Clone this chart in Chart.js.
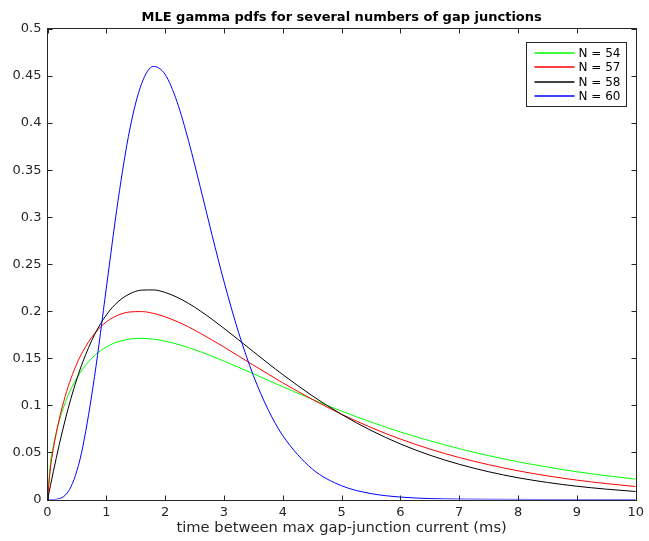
<!DOCTYPE html>
<html>
<head>
<meta charset="utf-8">
<script src="https://cdn.jsdelivr.net/npm/chart.js@4.4.1/dist/chart.umd.min.js"></script>
<style>
  html, body { margin: 0; padding: 0; background: #fff; }
  #wrap { width: 649px; height: 541px; }
</style>
</head>
<body>
<div id="wrap"><canvas id="pdfChart" width="649" height="541"></canvas></div>
<script>
// time axis (ms) where each pdf was sampled
const times = [0, 0.05, 0.1, 0.2, 0.3, 0.4, 0.5, 0.6, 0.8, 1, 1.2, 1.4, 1.6, 1.8, 2, 2.2, 2.4, 2.6, 2.8, 3,
  3.25, 3.5, 3.75, 4, 4.5, 5, 5.5, 6, 6.5, 7, 7.5, 8, 8.5, 9, 9.5, 10];

// fitted gamma densities, one array per junction count
const n54 = [0, 0.0387, 0.0574, 0.0837, 0.1028, 0.1176, 0.1293, 0.1389, 0.1530, 0.1621, 0.1677, 0.1705, 0.1713, 0.1704, 0.1683, 0.1652, 0.1614, 0.1570, 0.1522, 0.1471,
  0.1404, 0.1336, 0.1267, 0.1198, 0.1065, 0.0939, 0.0823, 0.0718, 0.0624, 0.0540, 0.0466, 0.0401, 0.0345, 0.0295, 0.0253, 0.0216];
const n57 = [0, 0.0334, 0.0541, 0.0855, 0.1095, 0.1288, 0.1445, 0.1573, 0.1764, 0.1887, 0.1959, 0.1993, 0.1997, 0.1978, 0.1941, 0.1892, 0.1833, 0.1766, 0.1694, 0.1620,
  0.1524, 0.1428, 0.1333, 0.1240, 0.1065, 0.0906, 0.0765, 0.0642, 0.0536, 0.0446, 0.0370, 0.0305, 0.0251, 0.0206, 0.0169, 0.0138];
const n58 = [0, 0.0147, 0.0298, 0.0584, 0.0844, 0.1077, 0.1282, 0.1462, 0.1752, 0.1961, 0.2102, 0.2186, 0.2225, 0.2227, 0.2200, 0.2150, 0.2083, 0.2003, 0.1914, 0.1819,
  0.1696, 0.1571, 0.1447, 0.1327, 0.1103, 0.0904, 0.0734, 0.0590, 0.0471, 0.0374, 0.0295, 0.0231, 0.0181, 0.0141, 0.0110, 0.0085];
const n60 = [0, 0, 0, 0.0009, 0.0045, 0.0137, 0.0306, 0.0560, 0.1308, 0.2247, 0.3180, 0.3937, 0.4419, 0.4602, 0.4517, 0.4230, 0.3806, 0.3313, 0.2804, 0.2317,
  0.1772, 0.1317, 0.0956, 0.0679, 0.0325, 0.0146, 0.0063, 0.0026, 0.0010, 0.0004, 0.0002, 0.0001, 0, 0, 0, 0];

const seriesNames = ['N = 54', 'N = 57', 'N = 58', 'N = 60'];
const seriesColors = ['#00ff00', '#ff0000', '#000000', '#0000ff'];
const allSeries = [n54, n57, n58, n60];

const axisColor = '#262626';
const fontFamily = "'DejaVu Sans', sans-serif";

// MATLAB style frame: box round the axes with ticks pointing inward on all four sides
const boxPlugin = {
  id: 'boxPlugin',
  afterDraw(chart) {
    const ctx = chart.ctx;
    const a = chart.chartArea;
    const xs = chart.scales.x, ys = chart.scales.y;
    const L = Math.round(a.left) - 0.5, R = Math.round(a.right) + 0.5;
    const T = Math.round(a.top) - 0.5, B = Math.round(a.bottom) + 0.5;
    const len = 5;
    ctx.save();
    ctx.strokeStyle = axisColor;
    ctx.lineWidth = 1;
    ctx.beginPath();
    xs.ticks.forEach(t => {
      const px = Math.round(xs.getPixelForValue(t.value)) + 0.5;
      ctx.moveTo(px, B); ctx.lineTo(px, B - len);
      ctx.moveTo(px, T); ctx.lineTo(px, T + len);
    });
    ys.ticks.forEach(t => {
      const py = Math.round(ys.getPixelForValue(t.value)) + 0.5;
      ctx.moveTo(L, py); ctx.lineTo(L + len, py);
      ctx.moveTo(R, py); ctx.lineTo(R - len, py);
    });
    ctx.stroke();
    ctx.strokeRect(L, T, R - L, B - T);

    // title
    ctx.fillStyle = '#000';
    ctx.font = 'bold 13px ' + fontFamily;
    ctx.textAlign = 'center';
    ctx.textBaseline = 'alphabetic';
    ctx.fillText('MLE gamma pdfs for several numbers of gap junctions', (a.left + a.right) / 2, 21);

    // legend in the upper right corner
    const bw = 100, rowH = 14.5;
    const bx = Math.round(R - 11 - bw) + 0.5, by = Math.round(T + 13) + 0.5;
    const bh = rowH * allSeries.length + 6;
    ctx.fillStyle = '#fff';
    ctx.fillRect(bx, by, bw, bh);
    ctx.strokeStyle = axisColor;
    ctx.strokeRect(bx, by, bw, bh);
    ctx.font = '12px ' + fontFamily;
    ctx.textAlign = 'left';
    ctx.textBaseline = 'middle';
    seriesNames.forEach((name, i) => {
      const y = Math.round(by + 10 + i * rowH);
      ctx.strokeStyle = seriesColors[i];
      ctx.lineWidth = 1.4;
      ctx.beginPath();
      ctx.moveTo(bx + 8, y);
      ctx.lineTo(bx + 48, y);
      ctx.stroke();
      ctx.fillStyle = '#000';
      ctx.fillText(name, bx + 52, y + 0.5);
    });
    ctx.restore();
  }
};

new Chart(document.getElementById('pdfChart'), {
  type: 'line',
  data: {
    datasets: allSeries.map((vals, i) => ({
      label: seriesNames[i],
      data: times.map((t, j) => ({ x: t, y: vals[j] })),
      borderColor: seriesColors[i],
      borderWidth: 1,
      pointRadius: 0,
      fill: false,
      cubicInterpolationMode: 'monotone',
      order: allSeries.length - i
    }))
  },
  options: {
    responsive: false,
    animation: false,
    layout: { padding: { top: 29, right: 7.5, left: 0, bottom: 0 } },
    plugins: {
      legend: { display: false },
      title: { display: false },
      tooltip: { enabled: false }
    },
    scales: {
      x: {
        type: 'linear',
        min: 0,
        max: 10,
        grid: { display: false, drawTicks: false },
        border: { display: false },
        ticks: { stepSize: 1, padding: 5, color: axisColor, font: { family: fontFamily, size: 13 } },
        title: {
          display: true,
          text: 'time between max gap-junction current (ms)',
          color: axisColor,
          font: { family: fontFamily, size: 14.7 },
          padding: { top: 0, bottom: 4 }
        },
        afterFit(scale) { scale.height = 41.5; }
      },
      y: {
        min: 0,
        max: 0.5,
        grid: { display: false, drawTicks: false },
        border: { display: false },
        ticks: {
          stepSize: 0.05,
          padding: 6,
          color: axisColor,
          font: { family: fontFamily, size: 13 },
          callback: v => String(Number(v.toFixed(2)))
        },
        afterFit(scale) { scale.width = 47.5; }
      }
    }
  },
  plugins: [boxPlugin]
});
</script>
</body>
</html>
